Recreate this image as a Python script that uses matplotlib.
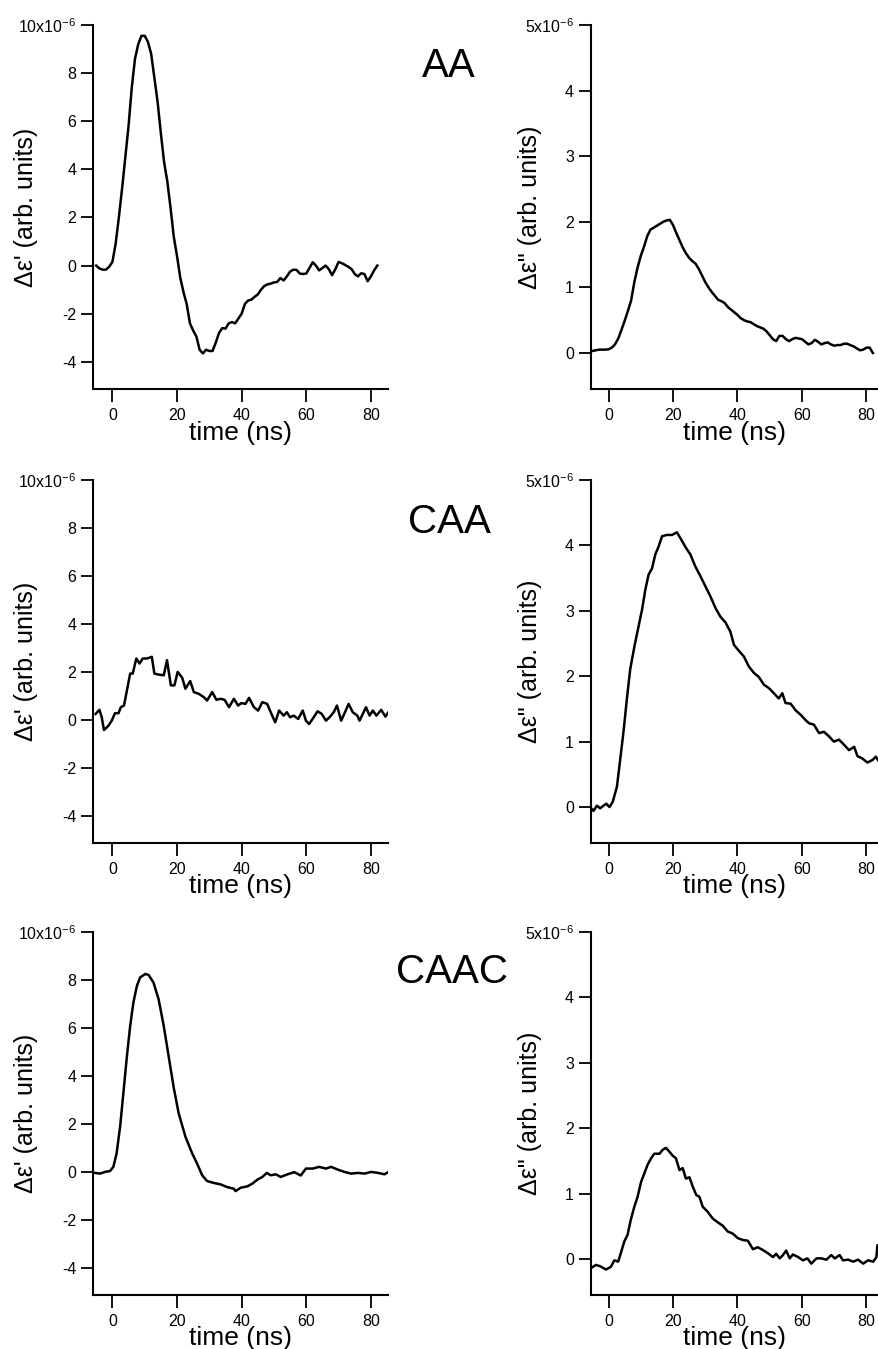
import matplotlib
matplotlib.use("Agg")
import matplotlib.pyplot as plt

plt.rcParams['font.family'] = ['Liberation Sans', 'DejaVu Sans']
plt.rcParams['mathtext.fontset'] = 'custom'
plt.rcParams['mathtext.rm'] = 'Liberation Sans'
plt.rcParams['mathtext.it'] = 'Liberation Sans:italic'

# ---- AA ----
aa_real_t = list(range(-5, 83))
aa_real_v = [0.0, -0.12, -0.17, -0.17, -0.05, 0.15, 0.9, 2.0, 3.2, 4.5,
             5.8, 7.4, 8.6, 9.2, 9.55, 9.55, 9.3, 8.8, 7.8, 6.8,
             5.5, 4.3, 3.5, 2.4, 1.2, 0.4, -0.5, -1.1, -1.6, -2.4,
             -2.7, -2.95, -3.5, -3.65, -3.5, -3.55, -3.55, -3.2, -2.8, -2.6,
             -2.62, -2.4, -2.35, -2.4, -2.2, -2.0, -1.6, -1.45, -1.42, -1.3,
             -1.2, -1.0, -0.85, -0.78, -0.75, -0.7, -0.68, -0.52, -0.62, -0.45,
             -0.25, -0.17, -0.18, -0.33, -0.35, -0.33, -0.1, 0.14, 0.0, -0.2,
             -0.1, 0.0, -0.15, -0.4, -0.15, 0.15, 0.1, 0.03, -0.05, -0.14,
             -0.35, -0.45, -0.32, -0.35, -0.65, -0.45, -0.2, 0.0]

aa_imag_t = list(range(-5, 83))
aa_imag_v = [0.03, 0.04, 0.05, 0.05, 0.05, 0.055, 0.08, 0.13, 0.22, 0.35,
             0.49, 0.64, 0.8, 1.08, 1.3, 1.48, 1.62, 1.78, 1.88, 1.91,
             1.94, 1.97, 2.0, 2.02, 2.03, 1.95, 1.83, 1.72, 1.61, 1.52,
             1.45, 1.40, 1.36, 1.28, 1.18, 1.08, 1.0, 0.93, 0.87, 0.81,
             0.79, 0.76, 0.70, 0.66, 0.62, 0.58, 0.53, 0.50, 0.48, 0.47,
             0.44, 0.41, 0.39, 0.37, 0.33, 0.27, 0.21, 0.18, 0.26, 0.26,
             0.21, 0.18, 0.21, 0.23, 0.22, 0.21, 0.17, 0.13, 0.15, 0.2,
             0.17, 0.13, 0.15, 0.16, 0.13, 0.11, 0.12, 0.12, 0.14, 0.14,
             0.12, 0.1, 0.07, 0.04, 0.05, 0.08, 0.08, 0.0]

# ---- CAA ----
caa_real_t = [-5.2, -4.0, -3.3, -2.6, -1.2, -0.2, 0.8, 1.9, 2.6, 3.6, 4.5, 5.5, 6.3, 7.4,
              8.4, 9.4, 10.7, 12.2, 13.0, 14.3, 15.9, 16.9, 18.1, 19.2, 20.2, 21.6,
              22.6, 24.1, 25.2, 26.7, 28.3, 29.3, 30.9, 32.2, 33.5, 34.7, 36.1, 37.6,
              38.9, 39.9, 41.2, 42.3, 43.8, 45.1, 46.4, 47.9, 49.0, 50.4, 51.6, 53.0,
              54.0, 55.0, 56.1, 57.5, 58.9, 59.9, 60.9, 62.3, 63.5, 64.8, 66.1, 67.2,
              68.5, 69.5, 70.8, 72.0, 73.1, 74.4, 75.8, 76.5, 77.5, 78.5, 79.6, 80.6,
              81.7, 83.2, 84.5, 85.8]
caa_real_v = [0.25, 0.42, 0.11, -0.42, -0.24, -0.03, 0.28, 0.28, 0.53, 0.6, 1.23, 1.93,
              1.93, 2.56, 2.35, 2.56, 2.56, 2.63, 1.93, 1.89, 1.86, 2.49, 1.44, 1.44,
              2.0, 1.76, 1.3, 1.62, 1.16, 1.09, 0.95, 0.81, 1.16, 0.84, 0.88, 0.84,
              0.53, 0.88, 0.6, 0.7, 0.67, 0.92, 0.53, 0.39, 0.74, 0.67, 0.32, -0.1,
              0.39, 0.18, 0.32, 0.11, 0.18, 0.04, 0.39, -0.03, -0.17, 0.11, 0.36, 0.25,
              -0.03, 0.11, 0.32, 0.6, -0.03, 0.32, 0.67, 0.32, 0.18, -0.03, 0.25, 0.53,
              0.18, 0.39, 0.18, 0.42, 0.14, 0.39]

caa_imag_t = [-5.7, -4.7, -3.6, -2.6, -1.6, -0.7, 0.3, 1.3, 2.6, 3.6, 4.7, 5.7, 6.7, 8.0,
              9.3, 10.4, 11.4, 12.4, 13.5, 14.5, 15.5, 16.6, 18.1, 19.7, 21.2, 22.3,
              23.8, 25.4, 26.9, 28.5, 30.1, 31.6, 33.2, 34.7, 36.3, 37.8, 38.9, 40.4,
              42.0, 43.5, 45.1, 46.6, 48.2, 49.7, 51.3, 52.8, 53.9, 54.9, 56.5, 58.0,
              59.6, 61.1, 62.2, 63.7, 65.3, 66.8, 68.4, 69.9, 71.5, 73.1, 74.6, 76.2,
              77.2, 78.8, 80.3, 81.9, 82.9, 84.1]
caa_imag_v = [0.0, -0.06, 0.02, -0.02, 0.02, 0.05, 0.0, 0.08, 0.31, 0.72, 1.18, 1.66,
              2.1, 2.45, 2.76, 3.02, 3.32, 3.55, 3.65, 3.86, 3.98, 4.14, 4.16, 4.16,
              4.2, 4.11, 3.98, 3.86, 3.68, 3.53, 3.37, 3.22, 3.04, 2.91, 2.82, 2.68,
              2.48, 2.39, 2.3, 2.15, 2.05, 1.99, 1.87, 1.82, 1.74, 1.66, 1.74, 1.59,
              1.58, 1.48, 1.41, 1.33, 1.28, 1.26, 1.13, 1.15, 1.08, 1.0, 1.03, 0.95,
              0.87, 0.92, 0.78, 0.74, 0.68, 0.72, 0.77, 0.68]

# ---- CAAC ----
caac_real_t = [-5.4, -3.8, -2.3, -0.7, 0.3, 1.3, 2.4, 3.4, 4.5, 5.5, 6.5, 7.6, 8.6, 10.2,
               11.2, 12.7, 14.3, 15.9, 17.4, 19.0, 20.5, 22.6, 24.7, 26.2, 27.8, 29.3,
               31.4, 33.5, 35.5, 37.6, 38.1, 39.7, 41.8, 43.3, 44.9, 46.4, 47.8, 49.0,
               50.6, 52.1, 54.2, 56.3, 58.3, 59.9, 62.0, 64.0, 66.1, 67.7, 69.7, 71.8,
               73.9, 76.0, 78.0, 80.1, 82.2, 84.2, 85.5]
caac_real_v = [-0.04, -0.07, 0.0, 0.04, 0.21, 0.77, 1.89, 3.29, 4.83, 6.08, 7.06, 7.76,
               8.11, 8.25, 8.21, 7.9, 7.2, 6.08, 4.83, 3.5, 2.45, 1.47, 0.77, 0.35,
               -0.14, -0.38, -0.46, -0.52, -0.63, -0.7, -0.8, -0.66, -0.6, -0.49, -0.32,
               -0.21, -0.04, -0.14, -0.1, -0.21, -0.1, -0.01, -0.15, 0.14, 0.14, 0.21,
               0.14, 0.21, 0.1, 0.0, -0.07, -0.04, -0.07, 0.0, -0.04, -0.1, 0.0]

caac_imag_t = [-5.5, -3.9, -2.6, -0.8, 0.7, 1.8, 3.0, 3.8, 4.9, 5.9, 6.9, 8.0, 9.0, 10.1,
               11.1, 12.1, 13.2, 14.2, 15.8, 16.8, 17.8, 18.9, 19.9, 20.9, 22.0, 23.0,
               24.0, 25.1, 26.1, 27.2, 28.2, 29.2, 30.8, 32.3, 33.9, 35.4, 37.0, 38.5,
               40.1, 41.7, 43.2, 44.8, 46.3, 47.8, 49.4, 51.0, 52.0, 53.1, 54.1, 55.1,
               56.2, 57.2, 58.8, 60.3, 61.7, 62.9, 64.5, 66.0, 67.6, 69.1, 70.2, 71.7,
               72.7, 74.3, 75.9, 77.4, 79.0, 80.5, 82.1, 83.1, 83.4, 83.8]
caac_imag_v = [-0.14, -0.09, -0.11, -0.16, -0.12, -0.02, -0.04, 0.09, 0.27, 0.37, 0.6,
               0.8, 0.95, 1.18, 1.31, 1.44, 1.54, 1.61, 1.61, 1.67, 1.70, 1.64, 1.58,
               1.54, 1.36, 1.39, 1.23, 1.25, 1.11, 0.98, 0.95, 0.8, 0.72, 0.62, 0.56,
               0.51, 0.42, 0.39, 0.32, 0.29, 0.28, 0.15, 0.18, 0.14, 0.09, 0.03, 0.08,
               0.01, 0.06, 0.13, 0.01, 0.07, 0.03, -0.02, 0.01, -0.07, 0.01, 0.01, -0.01,
               0.06, 0.01, 0.06, -0.02, -0.01, -0.04, -0.01, -0.07, -0.02, -0.04, 0.03,
               0.21, 0.21]

samples = ["AA", "CAA", "CAAC"]
real_data = [(aa_real_t, aa_real_v), (caa_real_t, caa_real_v), (caac_real_t, caac_real_v)]
imag_data = [(aa_imag_t, aa_imag_v), (caa_imag_t, caa_imag_v), (caac_imag_t, caac_imag_v)]

real_ticks = [-4, -2, 0, 2, 4, 6, 8, 10]
real_labels = ["-4", "-2", "0", "2", "4", "6", "8", r"10x10$^{-6}$"]
imag_ticks = [0, 1, 2, 3, 4, 5]
imag_labels = ["0", "1", "2", "3", "4", r"5x10$^{-6}$"]
time_ticks = [0, 20, 40, 60, 80]

W, H = 879, 1349
fig = plt.figure(figsize=(W / 100, H / 100), dpi=100)

rows_px = [(25, 389), (480, 843), (932, 1295)]
title_px = [(449, 76.7), (449, 533), (452.5, 983)]


def style_axis(ax, ylab, ylab_x):
    for s in ['top', 'right']:
        ax.spines[s].set_visible(False)
    for s in ['left', 'bottom']:
        ax.spines[s].set_linewidth(1.5)
    ax.tick_params(axis='both', direction='out', length=9, width=1.3, labelsize=11.5)
    ax.tick_params(axis='x', pad=5)
    ax.tick_params(axis='y', pad=3)
    ax.set_xticks(time_ticks)
    ax.set_xlabel("time (ns)", fontsize=19)
    ax.xaxis.set_label_coords(0.5, -0.139)
    ax.xaxis.label.set_va('baseline')
    ax.set_ylabel(ylab, fontsize=18)
    ax.yaxis.set_label_coords(ylab_x, 0.5)
    ax.yaxis.label.set_va('center')


for i in range(3):
    top, bot = rows_px[i]
    b = 1 - bot / H
    h = (bot - top) / H

    ax = fig.add_axes([93 / W, b, (388 - 93) / W, h])
    t, v = real_data[i]
    ax.plot(t, v, color='black', linewidth=1.8)
    ax.set_xlim(-6.0, 85.3)
    ax.set_ylim(-5.13, 10)
    ax.set_yticks(real_ticks)
    ax.set_yticklabels(real_labels)
    style_axis(ax, "Δε' (arb. units)", -0.227)

    ax2 = fig.add_axes([590.5 / W, b, (W - 590.5) / W, h])
    t, v = imag_data[i]
    ax2.plot(t, v, color='black', linewidth=1.8)
    ax2.set_xlim(-5.6, 83.9)
    ax2.set_ylim(-0.55, 5)
    ax2.set_yticks(imag_ticks)
    ax2.set_yticklabels(imag_labels)
    style_axis(ax2, 'Δε" (arb. units)', -0.211)

    tx, ty = title_px[i]
    fig.text(tx / W, 1 - ty / H, samples[i], fontsize=29, ha='center', va='baseline')

fig.savefig("out.png", dpi=100)
